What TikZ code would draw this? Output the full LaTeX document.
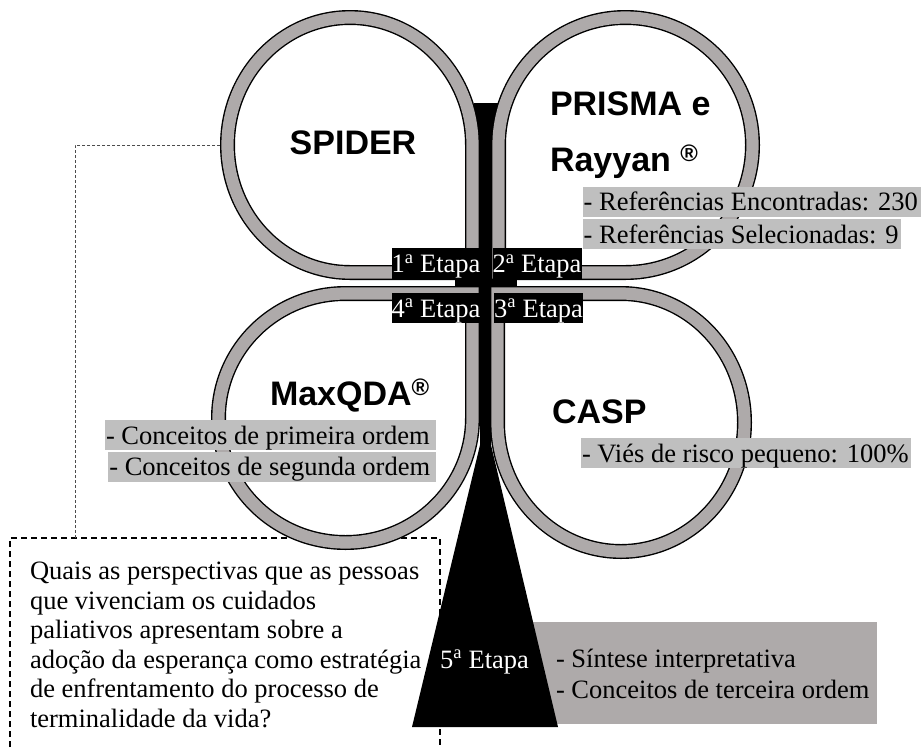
\documentclass[tikz,border=0pt]{standalone}
\usepackage{fontspec}
\setmainfont{Liberation Serif}
\newfontfamily\labelsans{Liberation Sans}
\definecolor{bandgray}{HTML}{AEAAAA}
\definecolor{shadegray}{HTML}{BFBFBF}
\definecolor{linkgray}{HTML}{4D4D4D}
% Petal outline: #1,#2 centre, #3,#4 half-axes of the band's centre line,
% #5,#6 (+1 or -1) side on which the pointed corner sits.
\newcommand{\petalpath}[6]{%
  ({#1+(#5)*#3},{#2+(#6)*#4}) -- ({#1+(#5)*#3},{#2})
  .. controls ({#1+(#5)*#3},{#2-(#6)*0.5523*#4}) and ({#1+(#5)*0.5523*#3},{#2-(#6)*#4}) .. ({#1},{#2-(#6)*#4})
  .. controls ({#1-(#5)*0.5523*#3},{#2-(#6)*#4}) and ({#1-(#5)*#3},{#2-(#6)*0.5523*#4}) .. ({#1-(#5)*#3},{#2})
  .. controls ({#1-(#5)*#3},{#2+(#6)*0.5523*#4}) and ({#1-(#5)*0.5523*#3},{#2+(#6)*#4}) .. ({#1},{#2+(#6)*#4})
  -- cycle}
% a shaded line of text of a fixed width, text flush left
\newcommand{\shadeline}[2]{\makebox[#1][l]{#2}}
\begin{document}
\begin{tikzpicture}[x=1pt,y=-1pt,
  every node/.style={inner sep=0pt, outer sep=0pt},
  band/.style={draw=black, line width=1.4pt, double=bandgray, double distance=12.2pt},
  bodyfont/.style={font=\fontsize{26.5}{30}\selectfont},
  head/.style={font=\labelsans\bfseries\fontsize{34}{40}\selectfont, anchor=base west},
  stagebox/.style={bodyfont, fill=black, text=white, text height=24.5pt, text depth=6pt,
                   anchor=north west},
  shadebox/.style={bodyfont, fill=shadegray, text height=24pt, text depth=6pt,
                   inner xsep=1pt, anchor=north west},
  linkline/.style={draw=linkgray, line width=0.8pt, dash pattern=on 3pt off 2pt},
  qframe/.style={draw=black, line width=1.2pt, dash pattern=on 6pt off 4pt},
]
\useasboundingbox (0,0) rectangle (921,747);

% grey panel of the fifth stage
\fill[bandgray] (500,621.7) rectangle (877.3,724);

% black cross and funnel behind the petals
\fill[black] (474,103) rectangle (498,300);
\fill[black] (455,278) rectangle (517,289);
\fill[black] (480,289) -- (491,289) -- (491,445) -- (558,727) -- (412,727) -- (480,445) -- cycle;

% dashed frame of the research question and its link to SPIDER
\coordinate (spiderW) at (220,145);
\coordinate (qtl) at (10,538);
\coordinate (qtr) at (440,538);
\coordinate (qbl) at (10,747);
\coordinate (qbr) at (440,747);
\coordinate (qlink) at (75,538);
\draw[qframe] (qbl) -- (qtl) -- (qtr) -- (qbr);
\draw[linkline] (spiderW) -| (qlink);

% the four petals
\draw[band] \petalpath{350}{145}{122.5}{127.5}{1}{1};
\draw[band] \petalpath{625.5}{145}{127}{127.5}{-1}{1};
\draw[band] \petalpath{345.5}{418}{127}{124.5}{1}{-1};
\draw[band] \petalpath{621}{422.5}{123.5}{129}{-1}{-1};

% stage labels
\node[stagebox, minimum width=88pt]   (s1) at (391.5,248)   {1\textsuperscript{a} Etapa};
\node[stagebox, minimum width=89pt]   (s2) at (492.5,248)   {2\textsuperscript{a} Etapa};
\node[stagebox, minimum width=88.5pt] (s4) at (391.5,292.5) {4\textsuperscript{a} Etapa};
\node[stagebox, minimum width=87.5pt] (s3) at (494,292.5)   {3\textsuperscript{a} Etapa};
\node[bodyfont, text=white, anchor=base] (s5) at (484.5,668) {5\textsuperscript{a} Etapa};

% petal titles
\node[head, anchor=base] (spider) at (353,154) {SPIDER};
\node[head] (prisma) at (550,115) {PRISMA e};
\node[head] (rayyan) at (550,171) {Rayyan \textsuperscript{®}};
\node[head] (maxqda) at (270,405) {MaxQDA\textsuperscript{®}};
\node[head] (casp)   at (552,423) {CASP};

% shaded notes
\node[shadebox] (n1) at (582.7,186.7) {\shadeline{336.3pt}{- Referências Encontradas: 230}};
\node[shadebox] (n2) at (582.7,219)   {\shadeline{316.3pt}{- Referências Selecionadas: 9}};
\node[shadebox] (n3) at (105,420)     {\shadeline{328.7pt}{- Conceitos de primeira ordem}};
\node[shadebox] (n4) at (108.3,451.7) {\shadeline{325.4pt}{- Conceitos de segunda ordem}};
\node[shadebox] (n5) at (581,438.3)   {\shadeline{327.7pt}{- Viés de risco pequeno: 100\%}};

% fifth stage notes
\node[font=\fontsize{26.5}{31}\selectfont, anchor=north west, align=left] (n6) at (556,645.3)
  {\strut- Síntese interpretativa\\- Conceitos de terceira ordem};

% research question
\node[font=\fontsize{26.5}{29.5}\selectfont, anchor=north west, align=left] (question) at (30,558.9)
  {\strut Quais as perspectivas que as pessoas\\
   que vivenciam os cuidados\\
   paliativos apresentam sobre a\\
   adoção da esperança como estratégia\\
   de enfrentamento do processo de\\
   terminalidade da vida?};
\end{tikzpicture}
\end{document}
